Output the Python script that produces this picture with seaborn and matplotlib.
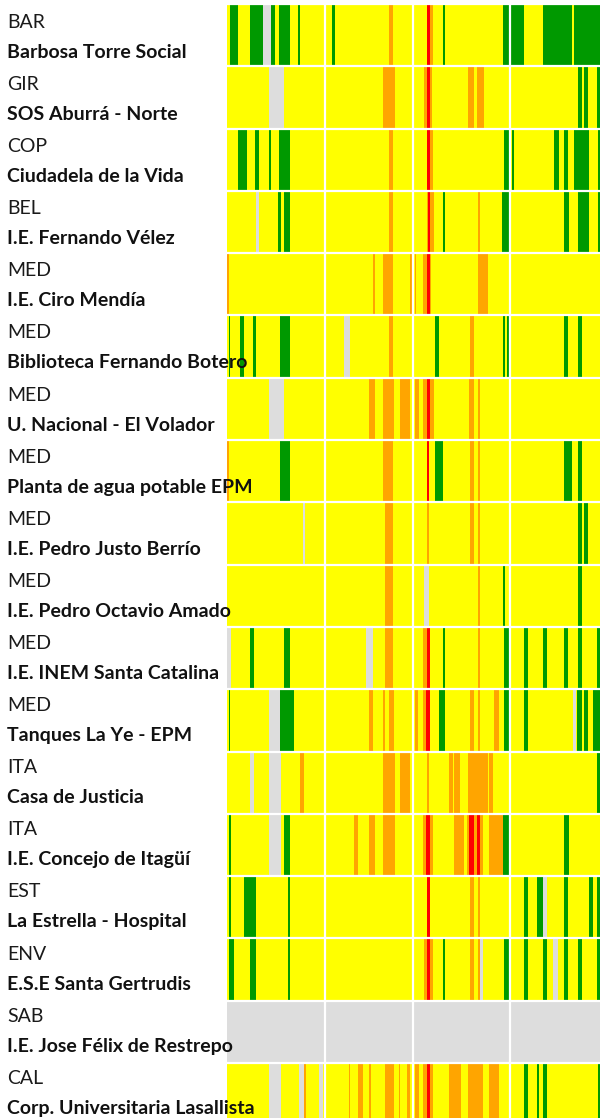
import numpy as np
import matplotlib
matplotlib.use("Agg")
import matplotlib.pyplot as plt
from matplotlib.colors import ListedColormap
import seaborn as sns

# station labels, top to bottom
codes = ["BAR", "GIR", "COP", "BEL", "MED", "MED", "MED", "MED", "MED",
         "MED", "MED", "MED", "ITA", "ITA", "EST", "ENV", "SAB", "CAL"]
names = ["Barbosa Torre Social", "SOS Aburrá - Norte", "Ciudadela de la Vida",
         "I.E. Fernando Vélez", "I.E. Ciro Mendía", "Biblioteca Fernando Botero",
         "U. Nacional - El Volador", "Planta de agua potable EPM",
         "I.E. Pedro Justo Berrío", "I.E. Pedro Octavio Amado",
         "I.E. INEM Santa Catalina", "Tanques La Ye - EPM", "Casa de Justicia",
         "I.E. Concejo de Itagüí", "La Estrella - Hospital", "E.S.E Santa Gertrudis",
         "I.E. Jose Félix de Restrepo", "Corp. Universitaria Lasallista"]

# runs of non-yellow periods per station: <level><start>-<end>
# n = no data, g = good, o = harmful for sensitive groups, r = harmful
bands = [
    "g3-11 g23-36 n36-44 g44-48 g52-63 g71-73 g105-108 o162-166 r200-203 o203-206 "
    "g216-218 g276-297 g316-345 g347-373",
    "n42-57 o156-168 o197-200 r200-203 o203-205 o241-247 o250-257 g351-355 g357-361 g370-373",
    "g11-20 g28-32 g42-44 g52-63 o162-166 r200-203 o203-206 g277-282 g285-287 g327-332 "
    "g337-341 g347-362 g371-373",
    "n29-32 g51-54 g57-63 o162-166 o200-207 r201-203 g216-218 o251-253 g275-282 g337-342 "
    "g351-362 g371-373",
    "o0-2 o146-148 o156-166 o183-185 o188-189 o196-200 r200-203 o203-204 o251-261",
    "g2-3 g13-17 g26-29 g53-63 n117-123 o162-166 g208-212 o243-247 g276-278 g280-282 "
    "g337-341 g351-355",
    "n42-57 o142-148 o156-167 o173-183 o188-192 o196-200 r200-203 o203-207 o242-247 o251-253",
    "o0-2 g53-63 o156-166 r200-202 g208-216 o243-247 o251-253 g337-345 g351-355",
    "n76-78 o158-166 o200-202 o243-247 o251-253 g351-355 g357-361",
    "o158-166 n197-202 o251-253 g276-278 g351-355",
    "n0-4 g23-27 g57-63 n139-146 o158-166 o196-200 r200-203 g216-218 o251-253 g277-282 "
    "g297-301 g316-320 g337-341 g351-355 g370-373",
    "g2-3 n42-53 g53-67 o142-146 o156-158 o162-167 o188-191 o196-199 r199-203 g212-218 "
    "o243-247 o251-253 o267-272 g277-282 g297-301 n346-349 g350-355 g357-361 g366-373",
    "n23-27 n42-54 o73-77 o156-168 o173-183 o200-202 o222-226 o227-233 o241-261 o262-266 g370-373",
    "g2-4 n42-54 g57-63 o127-131 o142-148 o156-168 o196-206 r199-203 o227-237 o240-256 "
    "r242-247 r250-253 o262-276 g276-282 g337-342",
    "g2-4 g17-29 g61-63 r200-203 o243-247 o251-253 g297-301 g310-316 n316-320 g337-341 "
    "g362-366 g370-373",
    "g2-7 g23-29 g61-63 o197-206 r200-203 g216-218 o243-247 o251-253 n253-256 g277-282 "
    "g297-301 g316-320 n326-331 g337-341 g351-355 g370-373",
    "n0-373",
    "n42-54 n72-77 o77-79 n92-96 o122-123 o131-136 o142-144 o158-167 o172-173 o180-183 "
    "o188-192 o196-206 r200-203 o222-234 o241-256 o262-272 g297-301 g310-312 g316-320 g371-373",
]
n_cols = 373
month_breaks = [98.3, 186.3, 283.3]

levels = {"n": 0, "g": 1, "y": 2, "o": 3, "r": 4}
palette = ["#dddddd", "#009900", "#ffff00", "#ffa500", "#ff0000"]

grid = np.full((len(names), n_cols), levels["y"])
for i, row in enumerate(bands):
    for run in row.split():
        a, b = run[1:].split("-")
        grid[i, int(a):int(b)] = levels[run[0]]

sns.set_theme(style="white")
plt.rcParams["font.family"] = ["Lato", "DejaVu Sans"]

W, H = 600, 1118
fig = plt.figure(figsize=(W / 100, H / 100), dpi=100)
top, row_h = 4, 62.3
ax = fig.add_axes([227 / W, (H - top - row_h * len(names)) / H,
                   373 / W, row_h * len(names) / H])
sns.heatmap(grid, ax=ax, cmap=ListedColormap(palette), vmin=-0.5, vmax=4.5,
            cbar=False, xticklabels=False, yticklabels=False)
for x in month_breaks:
    ax.axvline(x, color="white", lw=1.6)
for y in range(len(names) + 1):
    ax.axhline(y, color="white", lw=1.6)
ax.set_axis_off()

for i, (c, n) in enumerate(zip(codes, names)):
    fig.text(7 / W, 1 - (28 + 62.1 * i) / H, c, fontsize=14, va="baseline", color="#1a1a1a")
    fig.text(7 / W, 1 - (58 + 62.1 * i) / H, n, fontsize=14, va="baseline",
             weight="bold", color="#111111")

fig.savefig("out.png", dpi=100)
